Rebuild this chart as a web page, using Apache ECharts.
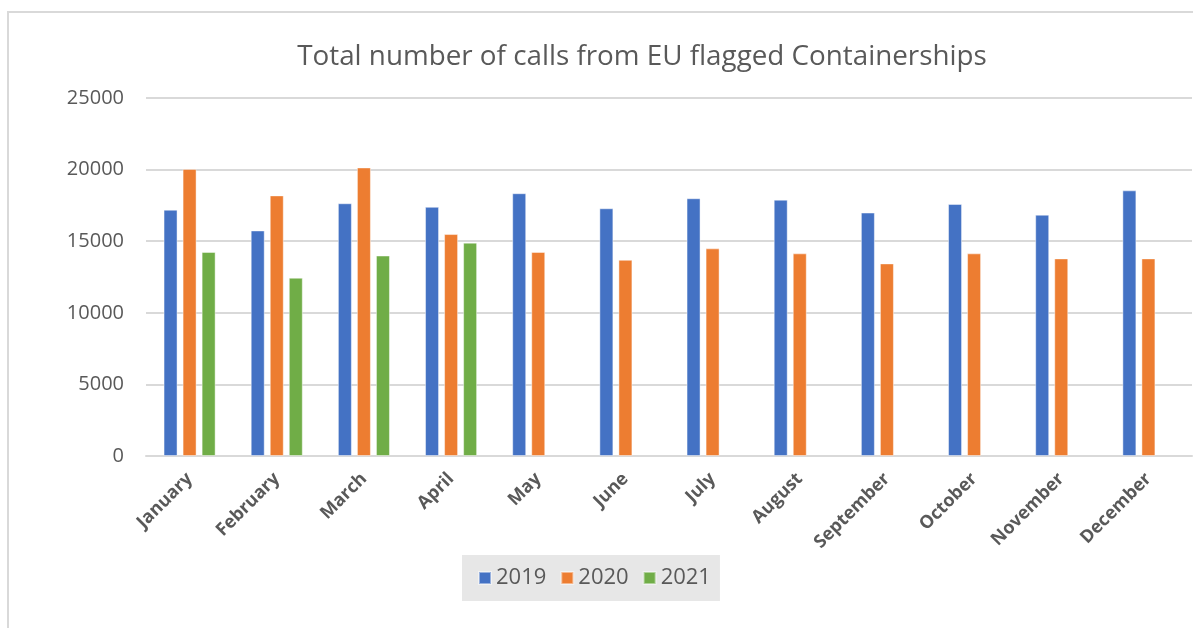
<!DOCTYPE html>
<html>
<head>
<meta charset="utf-8">
<script src="https://cdn.jsdelivr.net/npm/echarts@6/dist/echarts.min.js"></script>
<style>
html,body{margin:0;padding:0;background:#fff;}
#chart{width:1193px;height:628px;}
</style>
</head>
<body>
<div id="chart"></div>
<script>
const chartTitle = 'Total number of calls from EU flagged Containerships';
const months = ['January','February','March','April','May','June','July','August','September','October','November','December'];
const seriesNames = ['2019','2020','2021'];
const values2019 = [17200, 15750, 17650, 17400, 18350, 17300, 18000, 17900, 17000, 17600, 16850, 18550];
const values2020 = [20050, 18200, 20150, 15500, 14250, 13700, 14500, 14150, 13450, 14150, 13800, 13800];
const values2021 = [14250, 12450, 14000, 14900, null, null, null, null, null, null, null, null];
const yTicks = [0, 5000, 10000, 15000, 20000, 25000];
const colors = ['#4472C4', '#ED7D31', '#70AD47'];

const font = '"Open Sans", "Noto Sans", sans-serif';
const textColor = '#595959';
const chart = echarts.init(document.getElementById('chart'), null, {renderer: 'canvas'});
const allValues = [values2019, values2020, values2021];
chart.setOption({
  backgroundColor: '#ffffff',
  animation: false,
  color: colors,
  graphic: [{
    type: 'rect',
    shape: {x: 8, y: 12, width: 1200, height: 640},
    style: {fill: 'none', stroke: '#d9d9d9', lineWidth: 2},
    silent: true
  }],
  title: {
    text: chartTitle,
    left: 637,
    textAlign: 'center',
    top: 38,
    textStyle: {fontFamily: font, fontSize: 27.8, fontWeight: 'normal', color: textColor}
  },
  legend: {
    data: seriesNames,
    left: 462,
    top: 555,
    backgroundColor: '#e7e7e7',
    padding: [12, 9, 12, 16],
    itemWidth: 12,
    itemHeight: 12,
    itemGap: 14,
    icon: 'rect',
    textStyle: {fontFamily: font, fontSize: 22, color: textColor}
  },
  grid: {left: 146, right: 1, top: 98, bottom: 628 - 456, containLabel: false},
  xAxis: {
    type: 'category',
    data: months,
    axisLine: {show: true, lineStyle: {color: '#d9d9d9', width: 2}},
    axisTick: {show: false},
    axisLabel: {
      rotate: 45,
      interval: 0,
      margin: 20,
      fontFamily: font,
      fontSize: 18,
      fontWeight: 'bold',
      color: textColor
    }
  },
  yAxis: {
    type: 'value',
    min: yTicks[0],
    max: yTicks[yTicks.length - 1],
    interval: yTicks[1] - yTicks[0],
    axisLine: {show: false},
    axisTick: {show: false},
    splitLine: {lineStyle: {color: '#d9d9d9', width: 2}},
    axisLabel: {
      margin: 22,
      fontFamily: font,
      fontSize: 20,
      color: textColor,
      formatter: v => String(v)
    }
  },
  series: seriesNames.map((name, i) => ({
    name: name,
    type: 'bar',
    data: allValues[i],
    barWidth: 14,
    barGap: '36%',
    itemStyle: {color: colors[i], borderColor: 'rgba(255,255,255,0.45)', borderWidth: 1}
  }))
});
</script>
</body>
</html>
